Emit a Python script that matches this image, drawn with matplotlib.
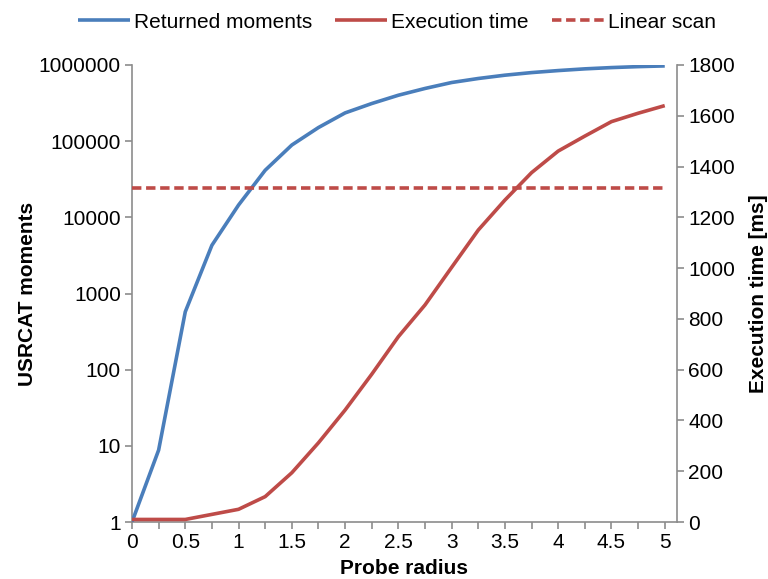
import matplotlib
matplotlib.use("Agg")
import matplotlib.pyplot as plt
from matplotlib.ticker import FixedLocator, NullFormatter, FixedFormatter

plt.rcParams['font.family'] = ['Liberation Sans', 'DejaVu Sans']

probe_radius = [0, 0.25, 0.5, 0.75, 1.0, 1.25, 1.5, 1.75, 2.0, 2.25, 2.5,
                2.75, 3.0, 3.25, 3.5, 3.75, 4.0, 4.25, 4.5, 4.75, 5.0]
returned_moments = [1, 8.8, 575, 4300, 14500, 41500, 89000, 151000, 235000, 312000, 401000,
                    492000, 589000, 665000, 735000, 795000, 845000, 890000, 925000, 952000, 973000]
execution_time = [10, 10, 10, 30, 50, 100, 194, 312, 441, 582, 730,
                  855, 1003, 1150, 1268, 1376, 1461, 1520, 1577, 1610, 1640]
linear_scan_ms = 1314

left_ticks = [1, 10, 100, 1000, 10000, 100000, 1000000]
left_labels = ["1", "10", "100", "1000", "10000", "100000", "1000000"]
right_ticks = [0, 200, 400, 600, 800, 1000, 1200, 1400, 1600, 1800]
x_major = [0, 0.5, 1, 1.5, 2, 2.5, 3, 3.5, 4, 4.5, 5]
x_labels = ["0", "0.5", "1", "1.5", "2", "2.5", "3", "3.5", "4", "4.5", "5"]

blue = "#4A7EBB"
red = "#BE4B48"
gray = "#8C8C8C"
fs_tick = 15
fs_label = 15
fs_leg = 15

fig = plt.figure(figsize=(7.68, 5.79), dpi=100)
ax = fig.add_axes([132/768, 1-522/579, (677-132)/768, (522-65)/579])
ax2 = ax.twinx()

l1, = ax.plot(probe_radius, returned_moments, color=blue, lw=2.6, solid_capstyle='butt',
              label="Returned moments", zorder=3)
l2, = ax2.plot(probe_radius, execution_time, color=red, lw=2.6, solid_capstyle='butt',
               label="Execution time", zorder=3)
l3, = ax2.plot([probe_radius[0], probe_radius[-1]], [linear_scan_ms, linear_scan_ms],
               color=red, lw=2.6, dashes=(2.6, 1.3), label="Linear scan", zorder=2)

ax.set_yscale('log')
ax.set_ylim(1, 1000000)
ax.set_xlim(0, 5.115)
ax2.set_ylim(0, 1800)

ax.yaxis.set_major_locator(FixedLocator(left_ticks))
ax.yaxis.set_major_formatter(FixedFormatter(left_labels))
ax.yaxis.set_minor_locator(FixedLocator([]))
ax.xaxis.set_major_locator(FixedLocator(x_major))
ax.xaxis.set_major_formatter(FixedFormatter(x_labels))
ax.xaxis.set_minor_locator(FixedLocator([0.25, 0.75, 1.25, 1.75, 2.25, 2.75, 3.25, 3.75, 4.25, 4.75]))
ax.xaxis.set_minor_formatter(NullFormatter())
ax2.yaxis.set_major_locator(FixedLocator(right_ticks))

for a in (ax, ax2):
    for s in a.spines.values():
        s.set_color(gray)
        s.set_linewidth(1.2)
    a.spines['top'].set_visible(False)
ax.spines['right'].set_visible(False)
ax2.spines['left'].set_visible(False)
ax2.spines['bottom'].set_visible(False)

ax.tick_params(axis='both', which='both', direction='out', length=5, width=1.2, color=gray,
               labelsize=fs_tick, pad=3)
ax2.tick_params(axis='y', direction='out', length=5, width=1.2, color=gray,
                labelsize=fs_tick, pad=3)

ax.set_xlabel("Probe radius", fontsize=fs_label, fontweight='bold', labelpad=5)
ax.set_ylabel("USRCAT moments", fontsize=fs_label, fontweight='bold', labelpad=1)
ax2.set_ylabel("Execution time [ms]", fontsize=fs_label, fontweight='bold', labelpad=10)

fig.legend(handles=[l1, l2, l3], loc='center', bbox_to_anchor=(397/768, 1-22/579), ncol=3,
           frameon=False, fontsize=fs_leg, handlelength=2.5, handletextpad=0.2,
           columnspacing=1.1, borderaxespad=0)

fig.savefig("out.png", dpi=100)
